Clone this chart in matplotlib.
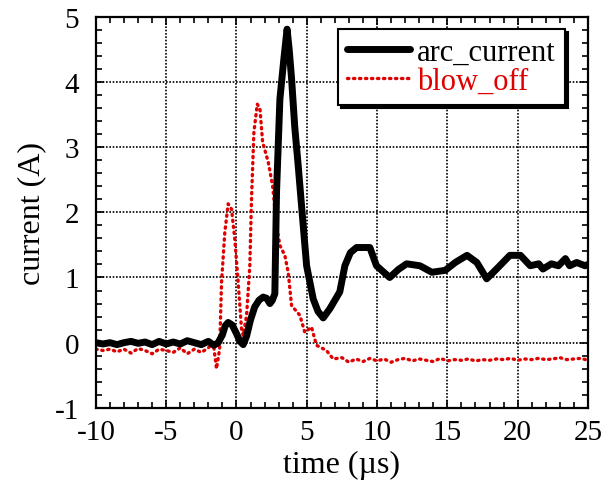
import matplotlib
matplotlib.use("Agg")
import matplotlib.pyplot as plt
from matplotlib.ticker import MultipleLocator

# arc_current trace (time in us, current in A)
arc_t = [-10, -9.5, -9, -8.5, -8, -7.5, -7, -6.5, -6, -5.5, -5, -4.5, -4, -3.5, -3,
         -2.5, -2, -1.6, -1.3, -1.0, -0.8, -0.59, -0.3, 0.0, 0.25, 0.48, 0.72, 1.0,
         1.3, 1.6, 1.9, 2.15, 2.38, 2.55, 2.73, 2.85, 3.09, 3.37, 3.6, 3.75, 3.92,
         4.15, 4.39, 4.63, 4.99, 5.46, 5.8, 6.17, 6.64, 7.35, 7.71, 8.1, 8.54, 9.49,
         9.96, 10.9, 11.5, 12.1, 13.05, 13.9, 14.85, 15.56, 16.4, 17.1, 17.8, 18.5,
         19.45, 20.2, 20.9, 21.5, 21.8, 22.4, 22.9, 23.4, 23.7, 24.2, 24.8, 25.0]
arc_i = [0.0, -0.02, 0.0, -0.03, 0.0, 0.02, -0.01, 0.01, -0.03, 0.02, -0.02, 0.01,
         -0.02, 0.03, 0.0, -0.03, 0.02, -0.04, 0.0, 0.12, 0.26, 0.31, 0.27, 0.14,
         0.02, -0.03, 0.1, 0.35, 0.55, 0.65, 0.70, 0.68, 0.60, 0.65, 0.75, 2.31,
         3.74, 4.35, 4.81, 4.50, 4.05, 3.3, 2.72, 2.10, 1.18, 0.67, 0.48, 0.38,
         0.52, 0.78, 1.18, 1.38, 1.46, 1.46, 1.18, 1.0, 1.12, 1.21, 1.18, 1.08,
         1.11, 1.23, 1.34, 1.23, 0.98, 1.13, 1.34, 1.34, 1.18, 1.21, 1.13, 1.21,
         1.18, 1.29, 1.18, 1.23, 1.18, 1.2]

# blow_off trace
blow_t = [-10, -9.5, -9, -8.5, -8, -7.5, -7, -6.5, -6, -5.5, -5, -4.5, -4, -3.5,
          -3, -2.5, -2, -1.65, -1.42, -1.2, -1.06, -0.83, -0.59, -0.35, -0.12,
          0.12, 0.36, 0.48, 0.72, 0.95, 1.07, 1.24, 1.48, 1.67, 1.86, 2.26, 2.57,
          2.85, 3.09, 3.44, 3.68, 3.92, 4.51, 4.86, 5.34, 5.69, 6.4, 6.88, 7.5,
          8.0, 8.5, 9.0, 9.5, 10.0, 10.5, 11.0, 11.5, 12.0, 12.5, 13.0, 13.5,
          14.0, 14.5, 15.0, 15.5, 16.0, 16.5, 17.0, 17.5, 18.0, 18.5, 19.0, 19.5,
          20.0, 20.5, 21.0, 21.5, 22.0, 22.5, 23.0, 23.5, 24.0, 24.5, 25.0]
blow_i = [-0.1, -0.12, -0.1, -0.14, -0.1, -0.16, -0.09, -0.12, -0.17, -0.1, -0.12,
          -0.15, -0.08, -0.17, -0.1, -0.15, -0.08, 0.0, -0.40, -0.1, 0.93, 1.69,
          2.13, 2.05, 1.59, 0.93, 0.21, 0.11, 0.42, 1.18, 2.2, 3.23, 3.66, 3.59,
          3.08, 2.77, 2.41, 1.80, 1.49, 1.34, 1.08, 0.57, 0.42, 0.16, 0.24, -0.04,
          -0.12, -0.25, -0.23, -0.30, -0.25, -0.29, -0.24, -0.28, -0.25, -0.3,
          -0.26, -0.24, -0.28, -0.25, -0.27, -0.29, -0.24, -0.28, -0.26, -0.27,
          -0.25, -0.28, -0.26, -0.27, -0.25, -0.26, -0.24, -0.27, -0.25, -0.26,
          -0.24, -0.26, -0.25, -0.23, -0.26, -0.25, -0.24, -0.27]

RED = "#e00000"

plt.rcParams["font.family"] = ["Liberation Serif", "DejaVu Serif"]
plt.rcParams["axes.unicode_minus"] = False

fig = plt.figure(figsize=(6.03, 4.81), dpi=100)
ax = fig.add_axes([0.159, 0.150, 0.816, 0.813])

ax.plot(arc_t, arc_i, color="black", linewidth=5, solid_joinstyle="round",
        solid_capstyle="round", label="arc_current", zorder=3)
ax.plot(blow_t, blow_i, color=RED, linewidth=2.4, linestyle=(0, (0.4, 1.4)),
        dash_capstyle="round", label="blow_off", zorder=2)

ax.set_xlim(-10, 25)
ax.set_ylim(-1, 5)
ax.xaxis.set_major_locator(MultipleLocator(5))
ax.xaxis.set_minor_locator(MultipleLocator(1))
ax.yaxis.set_major_locator(MultipleLocator(1))
ax.yaxis.set_minor_locator(MultipleLocator(0.2))
ax.tick_params(which="both", direction="in", top=True, right=True,
               labelsize=21, width=1.2)
ax.tick_params(which="major", length=6)
ax.tick_params(which="minor", length=4)
ax.tick_params(axis="x", which="major", pad=8)
ax.tick_params(axis="y", which="major", pad=12)
ax.grid(True, which="major", color="black", linestyle=(0, (1, 1)), linewidth=1.2)
for s in ax.spines.values():
    s.set_linewidth(1.6)

ax.set_xlabel("time (µs)", fontsize=23)
ax.xaxis.set_label_coords(0.5, -0.108)
ax.set_ylabel("current (A)", fontsize=23)
ax.yaxis.set_label_coords(-0.100, 0.5)

leg = ax.legend(loc="upper right", bbox_to_anchor=(0.953, 0.969), borderaxespad=0,
                fontsize=22, frameon=True, fancybox=False,
                shadow={"color": "black", "alpha": 1.0}, edgecolor="black",
                handlelength=2.05, handletextpad=0.23, borderpad=0.3,
                labelspacing=0.0, framealpha=1.0)
leg.get_frame().set_linewidth(1.5)
for txt, col in zip(leg.get_texts(), ["black", RED]):
    txt.set_color(col)

fig.savefig("out.png", dpi=100)
